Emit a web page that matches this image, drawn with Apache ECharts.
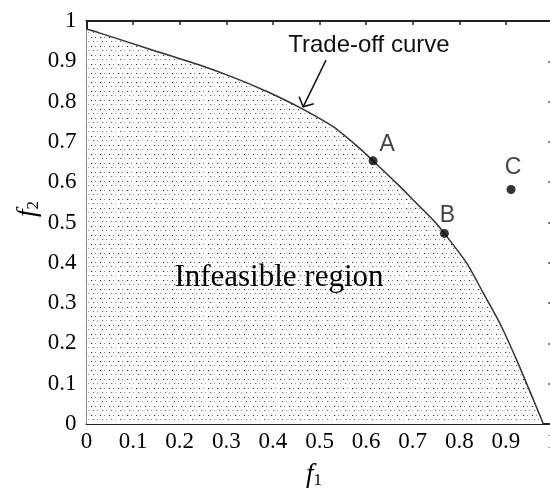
<!DOCTYPE html>
<html><head><meta charset="utf-8">
<script src="https://cdn.jsdelivr.net/npm/echarts@6/dist/echarts.min.js"></script>
<style>html,body{margin:0;padding:0;background:#fff}#c{width:550px;height:489px}</style>
</head><body><div id="c"></div>
<script>
// ---- data ----
const curveX = [0, 0.029, 0.136, 0.244, 0.315, 0.387, 0.458, 0.530, 0.580, 0.615, 0.673, 0.701, 0.744, 0.768, 0.816, 0.851, 0.887, 0.923, 0.959, 0.977, 0.980];
const curveY = [0.980, 0.970, 0.930, 0.890, 0.860, 0.825, 0.785, 0.737, 0.690, 0.653, 0.589, 0.556, 0.506, 0.473, 0.399, 0.326, 0.250, 0.159, 0.060, 0.010, 0];
const pointNames = ['A', 'B', 'C'];
const pointX = [0.615, 0.768, 0.911];
const pointY = [0.653, 0.473, 0.582];
const xTickLabels = ['0', '0.1', '0.2', '0.3', '0.4', '0.5', '0.6', '0.7', '0.8', '0.9', '1'];
const yTickLabels = ['0', '0.1', '0.2', '0.3', '0.4', '0.5', '0.6', '0.7', '0.8', '0.9', '1'];
const regionText = 'Infeasible region';
const regionAt = [0.413, 0.362];
const curveText = 'Trade-off curve';
const curveTextAt = [0.606, 0.940];
const arrowFrom = [0.514, 0.903];
const arrowTo = [0.465, 0.787];
const xName = ['f', '1'];
const yName = ['f', '2'];

// ---- dotted fill pattern ----
const pat = document.createElement('canvas');
pat.width = 9; pat.height = 9;
const pc = pat.getContext('2d');
pc.fillStyle = '#fff'; pc.fillRect(0, 0, 9, 9);
pc.fillStyle = '#222'; pc.fillRect(1, 1, 1, 1);
pc.fillStyle = '#888'; pc.fillRect(5, 1, 1, 1);
pc.fillStyle = '#666'; pc.fillRect(3, 5, 1, 1);
pc.fillStyle = '#999'; pc.fillRect(7, 5, 1, 1);
pc.fillStyle = '#ddd'; pc.fillRect(2, 1, 1, 1); pc.fillRect(4, 5, 1, 1);

const SERIF = "'Liberation Serif','Times New Roman',serif";
const SANS = "'Liberation Sans',Arial,sans-serif";
const labelOffset = {A: [14, -16], B: [3, -18], C: [2, -22]};

const chart = echarts.init(document.getElementById('c'), null, {renderer: 'canvas'});
const axisCommon = {
  type: 'value', min: 0, max: 1, interval: 0.1,
  splitLine: {show: false},
  axisLine: {show: true, onZero: false, lineStyle: {color: '#222', width: 2}},
  axisTick: {show: true, inside: true, length: 4, lineStyle: {color: '#222', width: 1.5}}
};
chart.setOption({
  animation: false,
  backgroundColor: '#fff',
  grid: {left: 86.5, top: 21, width: 466, height: 403, containLabel: false, outerBoundsMode: 'none'},
  xAxis: [
    Object.assign({}, axisCommon, {position: 'bottom',
      axisLabel: {show: true, margin: 6, color: '#000', fontFamily: SERIF, fontSize: 23, hideOverlap: false,
        formatter: (v, i) => xTickLabels[Math.round(v * 10)]}}),
    Object.assign({}, axisCommon, {position: 'top', axisLabel: {show: false}})
  ],
  yAxis: [
    Object.assign({}, axisCommon, {position: 'left',
      axisLabel: {show: true, margin: 10, color: '#000', fontFamily: SERIF, fontSize: 23,
        formatter: (v, i) => yTickLabels[Math.round(v * 10)]}}),
    Object.assign({}, axisCommon, {position: 'right', axisLabel: {show: false}})
  ],
  series: [
    {
      type: 'line',
      data: curveX.map((x, i) => [x, curveY[i]]),
      showSymbol: false,
      smooth: 0.2,
      lineStyle: {color: '#333', width: 1.5},
      areaStyle: {color: {image: pat, repeat: 'repeat'}, opacity: 1},
      silent: true
    },
    {
      type: 'scatter',
      symbol: 'circle',
      symbolSize: 9,
      itemStyle: {color: '#000'},
      data: pointNames.map((n, i) => ({
        name: n, value: [pointX[i], pointY[i]],
        label: {show: true, position: 'inside', offset: labelOffset[n], formatter: '{b}',
          color: '#111', fontFamily: SANS, fontSize: 23}
      })),
      z: 5
    }
  ]
});

function px(p) { return chart.convertToPixel({gridIndex: 0}, p); }
const tip = px(arrowTo), tail = px(arrowFrom);
const ang = Math.atan2(tail[1] - tip[1], tail[0] - tip[0]);
const wing = 11, spread = 48 * Math.PI / 180;
const w1 = [tip[0] + wing * Math.cos(ang - spread), tip[1] + wing * Math.sin(ang - spread)];
const w2 = [tip[0] + wing * Math.cos(ang + spread), tip[1] + wing * Math.sin(ang + spread)];
const rp = px(regionAt), cp = px(curveTextAt);
chart.setOption({
  graphic: [
    {type: 'polyline', shape: {points: [tail, tip]}, style: {stroke: '#111', lineWidth: 1.5, fill: null}, z: 10},
    {type: 'polyline', shape: {points: [w1, tip, w2]}, style: {stroke: '#111', lineWidth: 1.5, fill: null}, z: 10},
    {type: 'text', x: cp[0], y: cp[1], z: 10, style: {text: curveText, fill: '#111', font: '24px ' + SANS, align: 'center', verticalAlign: 'middle'}},
    {type: 'text', x: rp[0], y: rp[1], z: 10, style: {text: regionText, fill: '#000', font: '31px ' + SERIF, align: 'center', verticalAlign: 'middle'}},
    {type: 'text', x: 314, y: 475, z: 10, style: {
      text: '{f|' + xName[0] + '}{s|' + xName[1] + '}', align: 'center', verticalAlign: 'middle',
      rich: {f: {fontFamily: SERIF, fontStyle: 'italic', fontSize: 27, fill: '#000', color: '#000'},
             s: {fontFamily: SERIF, fontSize: 17, fill: '#000', color: '#000', padding: [12, 0, 0, 0]}}}},
    {type: 'text', x: 28, y: 209, rotation: Math.PI / 2, z: 10, style: {
      text: '{f|' + yName[0] + '}{s|' + yName[1] + '}', align: 'center', verticalAlign: 'middle',
      rich: {f: {fontFamily: SERIF, fontStyle: 'italic', fontSize: 27, fill: '#000', color: '#000'},
             s: {fontFamily: SERIF, fontSize: 17, fill: '#000', color: '#000', padding: [12, 0, 0, 0]}}}}
  ]
});
</script>
</body></html>
